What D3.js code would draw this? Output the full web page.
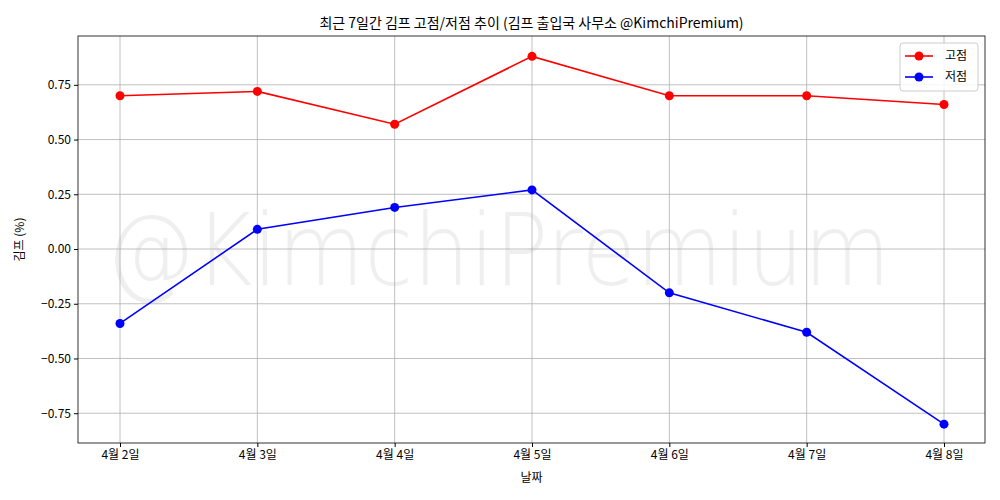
<!DOCTYPE html>
<html><head><meta charset="utf-8">
<script src="https://cdn.jsdelivr.net/npm/d3@7"></script>
<style>body{margin:0;background:#fff}text{font-family:"Noto Sans CJK KR","Noto Sans",sans-serif}</style>
</head><body><svg width="1000" height="500"></svg>
<script>
const dates = ['4월 2일','4월 3일','4월 4일','4월 5일','4월 6일','4월 7일','4월 8일']
const highs = [0.70, 0.72, 0.57, 0.88, 0.70, 0.70, 0.66]
const lows = [-0.34, 0.09, 0.19, 0.27, -0.20, -0.38, -0.80]
const yTicks = [-0.75, -0.5, -0.25, 0, 0.25, 0.5, 0.75]

const svg = d3.select('svg')
const [L, R, T, B] = [78, 985, 36, 443]

const x = d3.scalePoint().domain(dates).range([120, 944])
const y = d3.scaleLinear().domain([-0.886, 0.973]).range([B, T])

// watermark
svg.append('text').attr('x', 498).attr('y', 285).attr('text-anchor', 'middle')
	.attr('font-size', 100).attr('fill', '#000').attr('opacity', 0.06)
	.attr('textLength', 785).attr('lengthAdjust', 'spacingAndGlyphs')
	.style('font-family', 'DejaVu Sans').attr('font-weight', 200).text('@KimchiPremium')

// grid
svg.append('g').selectAll('line').data(dates).enter().append('line')
	.attr('x1', d => x(d)).attr('x2', d => x(d)).attr('y1', T).attr('y2', B)
	.attr('stroke', '#b0b0b0').attr('stroke-width', 0.8)
svg.append('g').selectAll('line').data(yTicks).enter().append('line')
	.attr('x1', L).attr('x2', R).attr('y1', d => y(d)).attr('y2', d => y(d))
	.attr('stroke', '#b0b0b0').attr('stroke-width', 0.8)

svg.append('rect').attr('x', L).attr('y', T).attr('width', R - L).attr('height', B - T)
	.attr('fill', 'none').attr('stroke', '#000').attr('stroke-width', 0.8)

const xa = svg.append('g').attr('transform', `translate(0,${B})`)
	.call(d3.axisBottom(x).tickSizeOuter(0).tickSize(4))
xa.select('.domain').remove()
xa.selectAll('text').attr('font-size', 12).attr('fill', '#000').style('font-family', '"Noto Sans CJK KR"')
const ya = svg.append('g').attr('transform', `translate(${L},0)`)
	.call(d3.axisLeft(y).tickValues(yTicks).tickFormat(d3.format('.2f')).tickSize(4))
ya.select('.domain').remove()
ya.selectAll('text').attr('font-size', 12).attr('fill', '#000').style('font-family', '"Noto Sans CJK KR"')

const series = [[highs, 'red', '고점'], [lows, 'blue', '저점']]
const line = d3.line().x((d, i) => x(dates[i])).y(d => y(d))
series.forEach(([vals, c]) => {
	svg.append('path').attr('d', line(vals)).attr('fill', 'none').attr('stroke', c).attr('stroke-width', 1.6)
	svg.append('g').selectAll('circle').data(vals).enter().append('circle')
		.attr('cx', (d, i) => x(dates[i])).attr('cy', d => y(d)).attr('r', 4.5).attr('fill', c)
})

svg.append('text').attr('x', (L + R) / 2).attr('y', 28).attr('text-anchor', 'middle')
	.attr('font-size', 14).text('최근 7일간 김프 고점/저점 추이 (김프 출입국 사무소 @KimchiPremium)')
svg.append('text').attr('x', (L + R) / 2).attr('y', 482).attr('text-anchor', 'middle')
	.attr('font-size', 12).text('날짜')
svg.append('text').attr('transform', `translate(24,${(T + B) / 2}) rotate(-90)`).attr('text-anchor', 'middle')
	.attr('font-size', 12).text('김프 (%)')

const lg = svg.append('g').attr('transform', 'translate(900,43)')
lg.append('rect').attr('width', 78).attr('height', 48).attr('rx', 3).attr('fill', '#fff')
	.attr('fill-opacity', 0.85).attr('stroke', '#ccc')
series.forEach(([, c, name], i) => {
	const g = lg.append('g').attr('transform', `translate(0,${13 + i * 21})`)
	g.append('line').attr('x1', 5).attr('x2', 33).attr('stroke', c).attr('stroke-width', 1.6)
	g.append('circle').attr('cx', 19).attr('r', 4.5).attr('fill', c)
	g.append('text').attr('x', 45).attr('y', 4).attr('font-size', 12).text(name)
})
</script></body></html>
